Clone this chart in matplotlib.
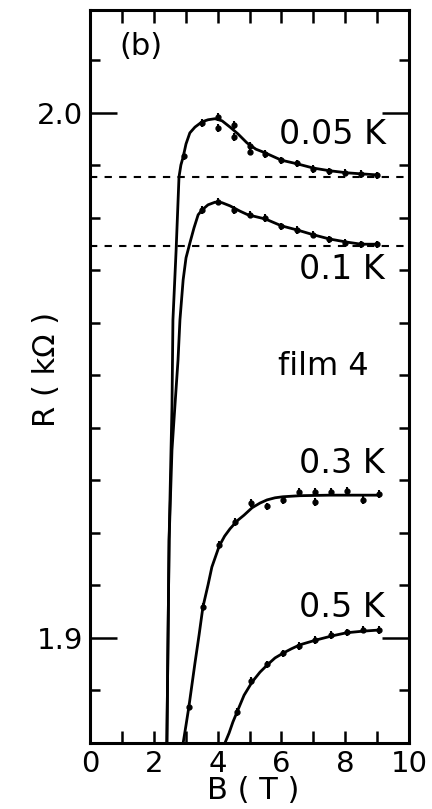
import matplotlib

matplotlib.use("Agg")

import matplotlib.pyplot as plt
from matplotlib.ticker import FormatStrFormatter, MultipleLocator

plt.rcParams.update({"font.family": "DejaVu Sans", "font.size": 21})

# fitted curves, R (kOhm) vs B (T)
fit_005_B = [2.41, 2.48, 2.54, 2.57, 2.60, 2.70, 2.79, 2.85, 2.92, 3.01, 3.13, 3.29,
             3.51, 3.70, 3.92, 4.14, 4.39, 4.64, 4.92, 5.20, 5.49, 6.00, 6.50, 7.00,
             7.50, 8.05, 8.50, 9.00]
fit_005_R = [1.8800, 1.9187, 1.9358, 1.9440, 1.9606, 1.9739, 1.9878, 1.9901, 1.9916,
             1.9941, 1.9962, 1.9973, 1.9983, 1.9987, 1.9989, 1.9985, 1.9973, 1.9960,
             1.9943, 1.9931, 1.9924, 1.9910, 1.9903, 1.9895, 1.9890, 1.9886, 1.9884,
             1.9882]

fit_01_B = [2.41, 2.48, 2.57, 2.66, 2.76, 2.82, 2.92, 3.01, 3.13, 3.26, 3.39, 3.51,
            3.70, 3.92, 4.14, 4.39, 4.70, 4.95, 5.50, 6.00, 6.50, 7.00, 7.50, 8.05,
            8.50, 9.00]
fit_01_R = [1.8800, 1.9187, 1.9358, 1.9440, 1.9530, 1.9606, 1.9682, 1.9724, 1.9752,
            1.9781, 1.9806, 1.9815, 1.9825, 1.9830, 1.9829, 1.9823, 1.9813, 1.9806,
            1.9798, 1.9785, 1.9777, 1.9768, 1.9760, 1.9754, 1.9750, 1.9750]

fit_03_B = [2.92, 3.01, 3.10, 3.29, 3.42, 3.54, 3.70, 3.82, 4.05, 4.22, 4.39, 4.61,
            4.83, 5.08, 5.33, 5.55, 5.80, 6.05, 6.58, 7.52, 9.03]
fit_03_R = [1.8800, 1.8834, 1.8869, 1.8952, 1.9006, 1.9059, 1.9101, 1.9135, 1.9175,
            1.9194, 1.9208, 1.9223, 1.9234, 1.9248, 1.9257, 1.9263, 1.9267, 1.9269,
            1.9271, 1.9272, 1.9272]

fit_05_B = [4.23, 4.36, 4.48, 4.61, 4.83, 5.08, 5.33, 5.58, 5.80, 6.05, 6.30, 6.58,
            7.08, 7.59, 8.05, 8.56, 9.03]
fit_05_R = [1.8800, 1.8819, 1.8840, 1.8859, 1.8891, 1.8916, 1.8935, 1.8950, 1.8962,
            1.8971, 1.8979, 1.8987, 1.8996, 1.9004, 1.9010, 1.9013, 1.9015]

# measured points
pts_005_B = [2.95, 3.5, 4.0, 4.0, 4.5, 4.5, 5.0, 5.0, 5.5, 6.0, 6.5, 7.0, 7.5, 8.0,
             8.5, 9.0]
pts_005_R = [1.9918, 1.9981, 1.9992, 1.9971, 1.9977, 1.9954, 1.9937, 1.9926, 1.9922,
             1.9910, 1.9904, 1.9893, 1.9889, 1.9886, 1.9884, 1.9881]

pts_01_B = [3.5, 4.0, 4.5, 5.0, 5.5, 6.0, 6.5, 7.0, 7.5, 8.0, 8.5, 9.0]
pts_01_R = [1.9815, 1.9831, 1.9815, 1.9806, 1.9800, 1.9784, 1.9777, 1.9768, 1.9759,
            1.9752, 1.9750, 1.9750]

pts_03_B = [3.1, 3.55, 4.05, 4.55, 5.05, 5.55, 6.05, 6.55, 7.05, 7.05, 7.55, 8.05,
            8.55, 9.05]
pts_03_R = [1.8869, 1.9059, 1.9177, 1.9221, 1.9257, 1.9251, 1.9263, 1.9278, 1.9259,
            1.9278, 1.9278, 1.9280, 1.9263, 1.9274]

pts_05_B = [4.6, 5.05, 5.55, 6.05, 6.55, 7.05, 7.55, 8.05, 8.55, 9.05]
pts_05_R = [1.8859, 1.8918, 1.8950, 1.8971, 1.8985, 1.8996, 1.9006, 1.9011, 1.9016,
            1.9015]

# saturation levels of the two lowest temperatures
dashed_R = [1.9878, 1.9747]

labels = ["0.05 K", "0.1 K", "0.3 K", "0.5 K"]
label_B = [7.6, 7.9, 7.9, 7.9]
label_R = [1.9958, 1.9701, 1.9333, 1.9059]

fig = plt.figure(figsize=(4.32, 8.09), dpi=100, facecolor="white")
ax = fig.add_axes([0.2083, 0.0816, 0.7385, 0.906])

for r in dashed_R:
    ax.axhline(r, color="black", lw=1.5, ls=(0, (3.5, 3.5)), zorder=1)

fits = [(fit_005_B, fit_005_R), (fit_01_B, fit_01_R),
        (fit_03_B, fit_03_R), (fit_05_B, fit_05_R)]
pts = [(pts_005_B, pts_005_R), (pts_01_B, pts_01_R),
       (pts_03_B, pts_03_R), (pts_05_B, pts_05_R)]
for (fb, fr), (pb, pr) in zip(fits, pts):
    ax.plot(fb, fr, color="black", lw=2.0, zorder=2, solid_joinstyle="round")
    ax.errorbar(pb, pr, yerr=0.0007, fmt="o", color="black", ms=3.5,
                elinewidth=1.5, capsize=0, zorder=3)

for text, b, r in zip(labels, label_B, label_R):
    ax.text(b, r, text, ha="center", va="center", fontsize=24)
ax.text(7.3, 1.9518, "film 4", ha="center", va="center", fontsize=23)
ax.text(1.6, 2.0126, "(b)", ha="center", va="center", fontsize=22)

ax.set_xlim(0, 10)
ax.set_ylim(1.88, 2.0196)
ax.xaxis.set_major_locator(MultipleLocator(2))
ax.xaxis.set_minor_locator(MultipleLocator(1))
ax.yaxis.set_major_locator(MultipleLocator(0.1))
ax.yaxis.set_minor_locator(MultipleLocator(0.01))
ax.yaxis.set_major_formatter(FormatStrFormatter("%.1f"))

ax.tick_params(axis="both", which="both", direction="in", width=1.8,
               top=True, right=True, labelsize=21, pad=5)
ax.tick_params(axis="x", which="both", length=9)
ax.tick_params(axis="y", which="major", length=19.5)
ax.tick_params(axis="y", which="minor", length=7)
for side in ax.spines.values():
    side.set_linewidth(2.2)

ax.set_xlabel("B ( T )", fontsize=22)
ax.set_ylabel("R ( kΩ )", fontsize=22)
ax.xaxis.set_label_coords(0.51, -0.045)
ax.yaxis.set_label_coords(-0.09, 0.51)

fig.savefig("out.png", dpi=100, facecolor="white")
